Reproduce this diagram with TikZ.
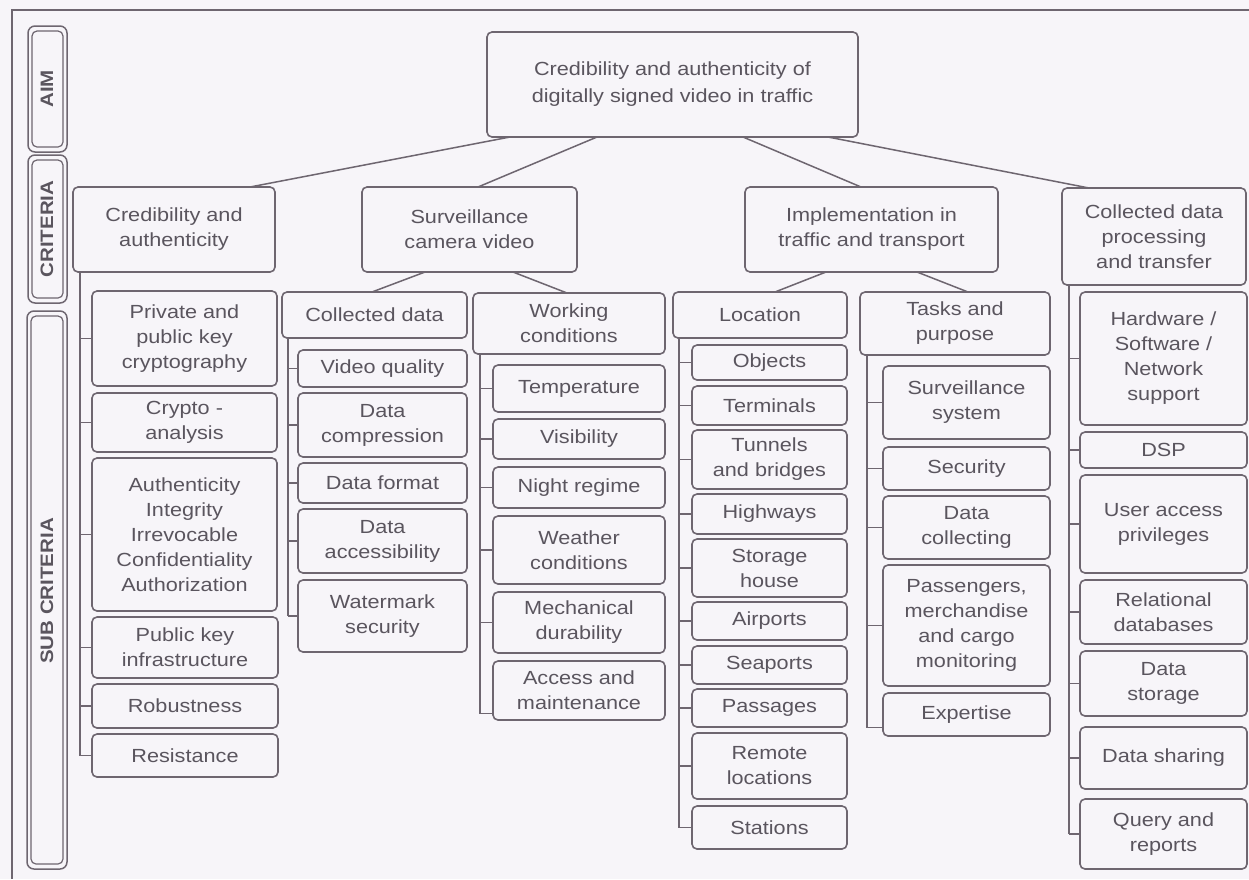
\documentclass[tikz,border=0pt]{standalone}
\usepackage{fontspec}
\setmainfont{Liberation Sans}[FakeStretch=1.14]
\definecolor{ln}{HTML}{6E6670}
\definecolor{tx}{HTML}{5A555E}
\definecolor{bg}{HTML}{F7F5F9}
\tikzset{
  box/.style={draw=ln, line width=1.6pt, rounded corners=5pt, inner sep=0pt, outer sep=0pt,
    align=center, text=tx, font=\fontsize{19}{25}\selectfont},
  conn/.style={draw=ln, line width=1.5pt},
  sideframe/.style={draw=ln, line width=1.5pt, rounded corners=7pt},
  sideinner/.style={draw=ln, line width=1.2pt, rounded corners=5pt},
  sidelabel/.style={rotate=90, text=tx, font=\fontsize{18}{20}\selectfont\bfseries, inner sep=0pt}
}
\newcommand\bxnode[6]{\node[box, minimum width={(#4)-(#2)}, minimum height={(#5)-(#3)}] (#1) at ({((#2)+(#4))/2},{((#3)+(#5))/2}) {#6};}
\newcommand\tickto[2]{\draw[conn] (#2.west) -- (#2.west -| #1);}
\begin{document}
\begin{tikzpicture}[x=1pt,y=-1pt]
\useasboundingbox (0,0) rectangle (1249,879);
\fill[bg] (0,0) rectangle (1249,879);
% outer frame
\draw[ln, line width=1.3pt] (1249,10) -- (12,10) -- (12,879);
% side labels
\draw[sideframe] (28,26) rectangle (67,152);
\draw[sideinner] (32,31) rectangle (63,147);
\node[sidelabel] (laim) at (47,89) {AIM};
\draw[sideframe] (28,155) rectangle (67,303);
\draw[sideinner] (32,160) rectangle (63,298);
\node[sidelabel] (lcrit) at (47,229) {CRITERIA};
\draw[sideframe] (27,311) rectangle (67,869);
\draw[sideinner] (31,316) rectangle (63,864);
\node[sidelabel] (lsub) at (47,591) {SUB CRITERIA};

% aim
\node[box, font=\fontsize{19}{27}\selectfont, minimum width=371pt, minimum height=105pt] (aim) at (672.5,84.5) {Credibility and authenticity of\\digitally signed video in traffic};
% criteria
\bxnode{crit1}{73}{187}{275}{272}{Credibility and\\authenticity}
\bxnode{crit2}{362}{187}{577}{272}{Surveillance\\camera video}
\bxnode{crit3}{745}{187}{998}{272}{Implementation in\\traffic and transport}
\bxnode{crit4}{1062}{188}{1246}{285}{Collected data\\processing\\and transfer}

% column 1
\bxnode{priv}{92}{291}{277}{386}{Private and\\public key\\cryptography}
\bxnode{crypto}{92}{393}{277}{452}{Crypto -\\analysis}
\bxnode{auth}{92}{458}{277}{611}{Authenticity\\Integrity\\Irrevocable\\Confidentiality\\Authorization}
\bxnode{pki}{92}{617}{278}{678}{Public key\\infrastructure}
\bxnode{robust}{92}{684}{278}{728}{Robustness}
\bxnode{resist}{92}{734}{278}{777}{Resistance}

% collected data
\bxnode{cd}{282}{292}{467}{338}{Collected data}
\bxnode{vq}{298}{350}{467}{387}{Video quality}
\bxnode{dc}{298}{393}{467}{457}{Data\\compression}
\bxnode{df}{298}{463}{467}{503}{Data format}
\bxnode{da}{298}{509}{467}{573}{Data\\accessibility}
\bxnode{wm}{298}{580}{467}{652}{Watermark\\security}

% working conditions
\bxnode{wc}{473}{293}{665}{354}{Working\\conditions}
\bxnode{temp}{493}{365}{665}{412}{Temperature}
\bxnode{vis}{493}{419}{665}{459}{Visibility}
\bxnode{night}{493}{467}{665}{508}{Night regime}
\bxnode{weather}{493}{516}{665}{584}{Weather\\conditions}
\bxnode{mech}{493}{592}{665}{653}{Mechanical\\durability}
\bxnode{access}{493}{661}{665}{720}{Access and\\maintenance}

% location
\bxnode{loc}{673}{292}{847}{338}{Location}
\bxnode{obj}{692}{345}{847}{380}{Objects}
\bxnode{term}{692}{386}{847}{425}{Terminals}
\bxnode{tunnels}{692}{430}{847}{489}{Tunnels\\and bridges}
\bxnode{highways}{692}{494}{847}{534}{Highways}
\bxnode{storage}{692}{539}{847}{597}{Storage\\house}
\bxnode{airports}{692}{602}{847}{640}{Airports}
\bxnode{seaports}{692}{646}{847}{684}{Seaports}
\bxnode{passages}{692}{689}{847}{727}{Passages}
\bxnode{remote}{692}{733}{847}{799}{Remote\\locations}
\bxnode{stations}{692}{806}{847}{849}{Stations}

% tasks
\bxnode{tasks}{860}{292}{1050}{355}{Tasks and\\purpose}
\bxnode{survsys}{883}{366}{1050}{439}{Surveillance\\system}
\bxnode{security}{883}{447}{1050}{490}{Security}
\bxnode{datacoll}{883}{496}{1050}{559}{Data\\collecting}
\bxnode{pass}{883}{565}{1050}{686}{Passengers,\\merchandise\\and cargo\\monitoring}
\bxnode{expertise}{883}{693}{1050}{736}{Expertise}

% data processing
\bxnode{hw}{1080}{292}{1247}{425}{Hardware /\\Software /\\Network\\support}
\bxnode{dsp}{1080}{432}{1247}{468}{DSP}
\bxnode{user}{1080}{475}{1247}{573}{User access\\privileges}
\bxnode{rel}{1080}{580}{1247}{644}{Relational\\databases}
\bxnode{dstor}{1080}{651}{1247}{716}{Data\\storage}
\bxnode{sharing}{1080}{727}{1247}{789}{Data sharing}
\bxnode{query}{1080}{799}{1247}{869}{Query and\\reports}

% aim -> criteria
\draw[conn] ([xshift=23pt]aim.south west) -- ([xshift=177pt]crit1.north west);
\draw[conn] ([xshift=110pt]aim.south west) -- ([xshift=116pt]crit2.north west);
\draw[conn] ([xshift=256pt]aim.south west) -- ([xshift=116pt]crit3.north west);
\draw[conn] ([xshift=341pt]aim.south west) -- ([xshift=27pt]crit4.north west);
% criteria -> groups
\draw[conn] ([xshift=63pt]crit2.south west) -- ([xshift=90pt]cd.north west);
\draw[conn] ([xshift=151pt]crit2.south west) -- ([xshift=94pt]wc.north west);
\draw[conn] ([xshift=81pt]crit3.south west) -- ([xshift=102pt]loc.north west);
\draw[conn] ([xshift=172pt]crit3.south west) -- ([xshift=108pt]tasks.north west);

% trunks
\coordinate (t1) at (80,0);
\coordinate (t2) at (288,0);
\coordinate (t3) at (480,0);
\coordinate (t4) at (679,0);
\coordinate (t5) at (867,0);
\coordinate (t6) at (1069,0);
\coordinate (accT) at ([yshift=-23pt]access.west);
\coordinate (expT) at ([yshift=-13pt]expertise.west);

\draw[conn] (crit1.south -| t1) -- (resist.west -| t1);
\foreach \n in {priv,crypto,auth,pki,robust,resist} {\tickto{t1}{\n}}

\draw[conn] (cd.south -| t2) -- (wm.west -| t2);
\foreach \n in {vq,dc,df,da,wm} {\tickto{t2}{\n}}

\draw[conn] (wc.south -| t3) -- (accT -| t3);
\foreach \n in {temp,vis,night,weather,mech} {\tickto{t3}{\n}}
\draw[conn] (accT) -- (accT -| t3);

\draw[conn] (loc.south -| t4) -- (stations.west -| t4);
\foreach \n in {obj,term,tunnels,highways,storage,airports,seaports,passages,remote,stations} {\tickto{t4}{\n}}

\draw[conn] (tasks.south -| t5) -- (expT -| t5);
\foreach \n in {survsys,security,datacoll,pass} {\tickto{t5}{\n}}
\draw[conn] (expT) -- (expT -| t5);

\draw[conn] (crit4.south -| t6) -- (query.west -| t6);
\foreach \n in {hw,dsp,user,rel,dstor,sharing,query} {\tickto{t6}{\n}}
\end{tikzpicture}
\end{document}
